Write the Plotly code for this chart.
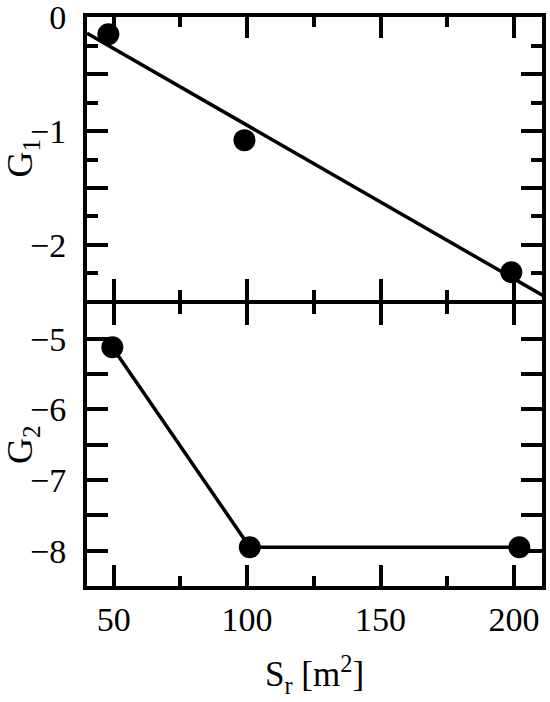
import plotly.graph_objects as go
from plotly.subplots import make_subplots

# ==========================
# DATA
# ==========================

# upper panel: G1 vs Sr, with straight fit line
sr_g1 = [48, 99, 199]
g1 = [-0.15, -1.08, -2.24]
fit_sr = [40, 212]
fit_g1 = [-0.14, -2.46]

# lower panel: G2 vs Sr, points joined by lines
sr_g2 = [49.5, 101, 202]
g2 = [-5.12, -7.95, -7.95]

x_ticks = [50, 100, 150, 200]
x_minor = [75, 125, 175]

g1_ticks = [0, -0.5, -1, -1.5, -2]
g1_labels = ["0", "", "\u22121", "", "\u22122"]
g1_minor = [-0.25, -0.75, -1.25, -1.75, -2.25]

g2_ticks = [-5, -5.5, -6, -6.5, -7, -7.5, -8]
g2_labels = ["\u22125", "", "\u22126", "", "\u22127", "", "\u22128"]

# ==========================
# FIGURE
# ==========================

FONT = "Liberation Serif"
LW = 4
PLOT_H = 702 - 17 - 116

# small gap so both 4px axis lines fall on the same row of pixels
fig = make_subplots(rows=2, cols=1, shared_xaxes=True,
                    vertical_spacing=LW / PLOT_H)

fig.add_trace(go.Scatter(x=fit_sr, y=fit_g1, mode="lines",
                         line=dict(color="black", width=3.5)), row=1, col=1)
fig.add_trace(go.Scatter(x=sr_g1, y=g1, mode="markers",
                         marker=dict(color="black", size=22)), row=1, col=1)
fig.add_trace(go.Scatter(x=sr_g2, y=g2, mode="lines+markers",
                         line=dict(color="black", width=3.5),
                         marker=dict(color="black", size=22)), row=2, col=1)

axis_common = dict(
    showline=True, linecolor="black", linewidth=LW, automargin=False,
    mirror="allticks", ticks="inside", tickcolor="black", tickwidth=3.5,
    showgrid=False, zeroline=False, ticklabeloverflow="allow",
    tickfont=dict(family=FONT, size=34, color="black"),
)

for r in (1, 2):
    fig.update_xaxes(
        range=[40, 210.5], tickmode="array", tickvals=x_ticks, ticklen=21,
        minor=dict(tickmode="array", tickvals=x_minor, ticklen=10,
                   ticks="inside", tickcolor="black", tickwidth=3.5),
        **axis_common, row=r, col=1,
    )

fig.update_xaxes(
    title=dict(text="S<sub>r</sub> [m<sup>2</sup>]",
               font=dict(family=FONT, size=35, color="black"), standoff=26),
    row=2, col=1,
)

fig.update_yaxes(
    range=[-2.48, 0.002], tickmode="array", tickvals=g1_ticks, ticktext=g1_labels,
    ticklen=21, ticklabelstandoff=10,
    minor=dict(tickmode="array", tickvals=g1_minor, ticklen=11,
               ticks="inside", tickcolor="black", tickwidth=3.5),
    title=dict(text="G<sub>1</sub>", font=dict(family=FONT, size=36, color="black"),
               standoff=2),
    **axis_common, row=1, col=1,
)

fig.update_yaxes(
    range=[-8.5, -4.5], tickmode="array", tickvals=g2_ticks, ticktext=g2_labels,
    ticklen=21, ticklabelstandoff=10,
    title=dict(text="G<sub>2</sub>", font=dict(family=FONT, size=36, color="black"),
               standoff=2),
    **axis_common, row=2, col=1,
)

fig.update_layout(
    width=550, height=702,
    margin=dict(l=87, r=8, t=17, b=116),
    paper_bgcolor="white", plot_bgcolor="white",
    showlegend=False,
)

# drop the page's default body margin so the figure fills the window
fig.write_html("out.html",
               config={"displayModeBar": False},
               post_script="document.body.style.margin='0';"
                           "document.body.style.overflow='hidden';")
